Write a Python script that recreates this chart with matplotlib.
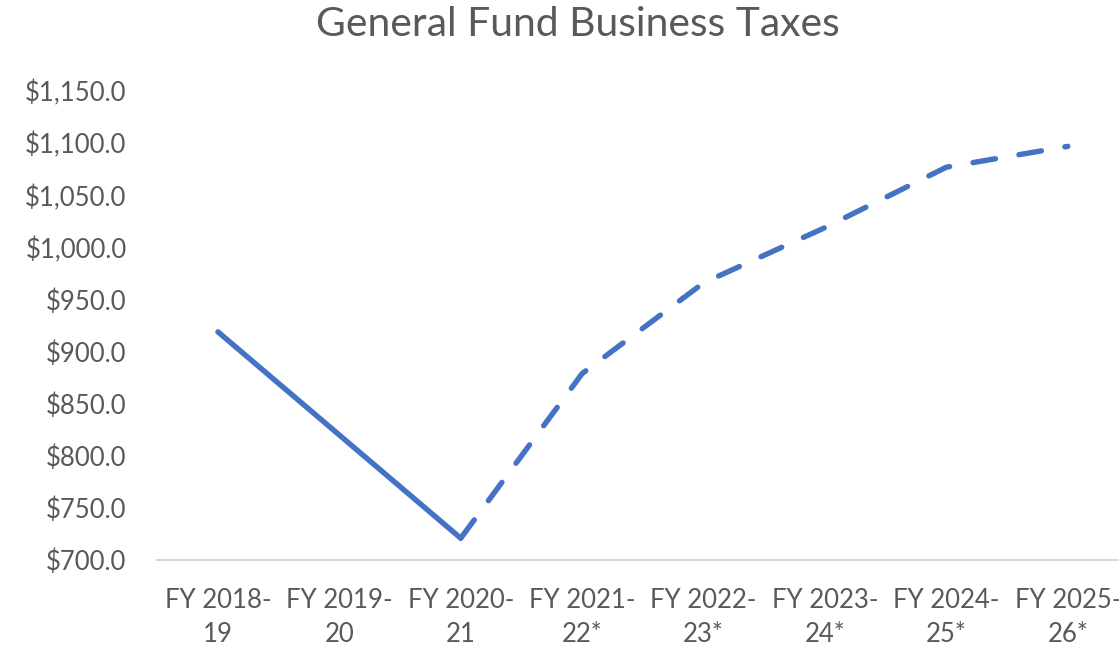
import matplotlib.pyplot as plt
from matplotlib.ticker import FuncFormatter

# fiscal years and business tax revenue ($ millions), * = projected
years = ["FY 2018-\n19", "FY 2019-\n20", "FY 2020-\n21", "FY 2021-\n22*",
         "FY 2022-\n23*", "FY 2023-\n24*", "FY 2024-\n25*", "FY 2025-\n26*"]
taxes = [919.0, 820.0, 721.0, 879.0, 966.0, 1019.0, 1077.0, 1097.0]
last_actual = 2  # index of last actual year; projections start here

plt.rcParams['font.family'] = ['Lato', 'DejaVu Sans']
color = "#4472C4"
grey = "#595959"

fig = plt.figure(figsize=(11.19, 6.46), dpi=100)
ax = fig.add_axes([0.1405, 0.133, 0.868, 0.726])

x = list(range(len(years)))
ax.plot(x[:last_actual + 1], taxes[:last_actual + 1], color=color, lw=3.9,
        solid_capstyle="round", solid_joinstyle="miter")
ax.plot(x[last_actual:], taxes[last_actual:], color=color, lw=3.9,
        dashes=(4.2, 4.4), dash_capstyle="round")

ax.set_xlim(-0.5, len(years) - 0.5)
ax.set_ylim(700, 1150)
ax.set_yticks(range(700, 1151, 50))
ax.yaxis.set_major_formatter(FuncFormatter(lambda v, p: f"${v:,.1f}"))
ax.set_xticks(x)
ax.set_xticklabels(years, linespacing=1.45)

for s in ["top", "right", "left"]:
    ax.spines[s].set_visible(False)
ax.spines["bottom"].set_color("#d9d9d9")
ax.spines["bottom"].set_linewidth(1.5)
ax.tick_params(length=0, labelsize=18.5, colors=grey)
ax.tick_params(axis="x", pad=20)
ax.tick_params(axis="y", pad=22)

fig.suptitle("General Fund Business Taxes", fontsize=29.4, color=grey,
             x=0.516, y=0.99)

fig.savefig("out.png", dpi=100)
